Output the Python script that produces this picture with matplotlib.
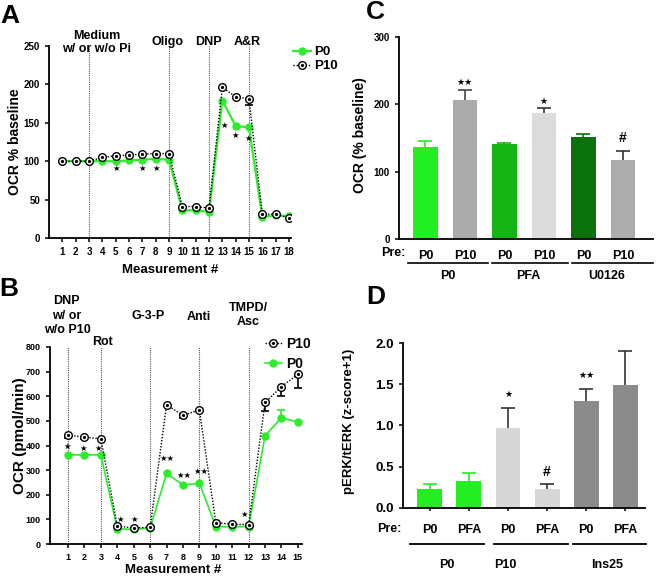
import matplotlib
matplotlib.use('Agg')
import matplotlib.pyplot as plt
from matplotlib.legend_handler import HandlerTuple

plt.rcParams['font.family'] = ['Liberation Sans', 'DejaVu Sans']
plt.rcParams['font.weight'] = 'bold'
plt.rcParams['axes.labelweight'] = 'bold'

# ---------------- data ----------------
GREEN = '#2cec2c'

# Panel A
a_meas = list(range(1, 19))
a_p0 = [100, 100, 100, 100, 100, 101, 102, 103, 102, 36, 36, 34, 179, 146, 144, 27, 30, 28]
a_p10 = [100, 100, 100, 105, 107, 108, 109, 110, 110, 41, 41, 39, 196, 184, 181, 31, 31, 26]
a_p10_err_lo = [0, 0, 0, 0, 0, 0, 0, 0, 0, 0, 0, 0, 0, 0, 8, 0, 0, 0]
a_injections = [3, 9, 12, 15]
a_inj_labels = ['Medium\nw/ or w/o Pi', 'Oligo', 'DNP', 'A&R']
a_inj_label_x = [3.6, 8.9, 11.95, 14.9]
a_star_x = [5.04, 7.02, 8.02, 13.16, 13.96, 14.91]
a_star_y = [91, 91, 91, 146, 134, 130]
a_star_txt = ['★', '★', '★', '★', '★', '★']

# Panel B
b_meas = list(range(1, 16))
b_p10 = [442, 434, 427, 73, 65, 68, 565, 523, 544, 87, 80, 79, 575, 639, 689]
b_p0 = [362, 362, 362, 61, 60, 64, 287, 239, 247, 71, 70, 71, 440, 513, 495]
b_p10_err_lo = [12, 8, 0, 0, 0, 0, 0, 13, 0, 0, 0, 0, 33, 38, 55]
b_p0_err_hi = [0, 0, 0, 0, 0, 0, 0, 0, 0, 0, 0, 0, 0, 32, 0]
b_injections = [1, 3, 6, 9, 12]
b_inj_labels = ['DNP\nw/ or\nw/o P10', 'Rot', 'G-3-P', 'Anti', 'TMPD/\nAsc']
b_inj_label_x = [0.93, 3.1, 5.87, 8.97, 12.0]
b_inj_label_y = [927, 819, 924, 923, 931]
b_star_x = [0.92, 1.93, 2.84, 4.17, 5.04, 7.05, 8.06, 9.08, 11.7]
b_star_y = [395, 386, 386, 101, 100, 348, 278, 294, 118]
b_star_txt = ['★', '★', '★', '★', '★', '★★', '★★', '★★', '★']

# Panel C
c_pre = ['P0', 'P10', 'P0', 'P10', 'P0', 'P10']
c_groups = ['P0', 'PFA', 'U0126']
c_vals = [137, 206, 141, 187, 151, 117]
c_err = [9, 15, 2, 7, 5, 14]
c_colors = ['#22ee22', '#ababab', '#14b414', '#dcdcdc', '#0b720b', '#adadad']
c_err_colors = ['#22ee22', '#444444', '#14b414', '#333333', '#0b720b', '#333333']
c_annot = ['', '★★', '', '★', '', '#']
c_annot_y = [0, 233, 0, 205, 0, 150]

# Panel D
d_pre = ['P0', 'PFA', 'P0', 'PFA', 'P0', 'PFA']
d_groups = ['P0', 'P10', 'Ins25']
d_vals = [0.23, 0.33, 0.97, 0.23, 1.29, 1.49]
d_err = [0.055, 0.09, 0.24, 0.055, 0.15, 0.41]
d_colors = ['#22ee22', '#22ee22', '#d7d7d7', '#d7d7d7', '#8b8b8b', '#8b8b8b']
d_err_colors = ['#22ee22', '#22ee22', '#333333', '#333333', '#333333', '#333333']
d_annot = ['', '', '★', '#', '★★', '']
d_annot_y = [0, 0, 1.37, 0.43, 1.61, 0]

# ---------------- figure ----------------
W, H = 656, 577
fig = plt.figure(figsize=(6.56, 5.77), dpi=100)


def ax_px(l, r, t, b):
    return fig.add_axes([l / W, 1 - b / H, (r - l) / W, (b - t) / H])


def style(ax, size):
    for s in ['top', 'right']:
        ax.spines[s].set_visible(False)
    for s in ['left', 'bottom']:
        ax.spines[s].set_linewidth(1.3)
    ax.tick_params(direction='out', length=3, width=1.1, labelsize=size)
    for lab in ax.get_xticklabels() + ax.get_yticklabels():
        lab.set_fontweight('bold')


def one_sided(ax, xs, ys, errs, color, up, z, capsize=3):
    """error bars drawn only on one side, with a cap only at the far end"""
    for xv, yv, e in zip(xs, ys, errs):
        if e <= 0:
            continue
        yerr = [[0], [e]] if up else [[e], [0]]
        _, caps, _ = ax.errorbar(xv, yv, yerr=yerr, fmt='none', ecolor=color, elinewidth=1.2,
                                 capsize=capsize, capthick=1.2, zorder=z)
        # caps[0] is lower cap, caps[1] upper cap
        if up:
            caps[0].set_visible(False)
        else:
            caps[1].set_visible(False)


STAR_FONT = ['DejaVu Sans']

# ---------- Panel A ----------
axA = ax_px(49, 291, 46, 238)
axA.set_xlim(0, 18.15)
axA.set_ylim(0, 250)
for xv in a_injections:
    axA.axvline(xv, color='#555555', lw=0.8, ls=(0, (1, 1)), zorder=1)
l0, = axA.plot(a_meas, a_p0, color=GREEN, lw=1.6, marker='o', ms=5, mfc=GREEN, mec=GREEN, zorder=3)
one_sided(axA, a_meas, a_p10, a_p10_err_lo, 'k', False, 4)
l10, = axA.plot(a_meas, a_p10, color='k', lw=1.0, ls=(0, (1, 1.2)), marker='o', ms=5.5, mfc='white', mec='k', mew=1.0, zorder=5)
d10, = axA.plot(a_meas, a_p10, ls='none', marker='o', ms=1.3, color='k', zorder=6)
axA.set_xticks(a_meas)
axA.set_yticks([0, 50, 100, 150, 200, 250])
style(axA, 7)
axA.set_xlabel('Measurement #', fontsize=9.5, fontweight='bold')
axA.set_ylabel('OCR % baseline', fontsize=10, fontweight='bold')
axA.xaxis.set_label_coords(0.5, -0.135)
axA.yaxis.set_label_coords(-0.112, 0.503)
for txt, xv in zip(a_inj_labels, a_inj_label_x):
    axA.text(xv, 255, txt, ha='center', va='center', fontsize=9, fontweight='bold', clip_on=False, linespacing=1.1)
for xv, yv, t in zip(a_star_x, a_star_y, a_star_txt):
    axA.text(xv, yv, t, ha='center', va='center', fontsize=6, family=STAR_FONT)
axA.legend([l0, (l10, d10)], ['P0', 'P10'], handler_map={tuple: HandlerTuple(ndivide=1)},
           loc='upper left', bbox_to_anchor=(1.01, 1.0), frameon=False, borderpad=0, borderaxespad=0,
           handlelength=1.3, handletextpad=0.3, labelspacing=0.15, prop={'size': 9.5, 'weight': 'bold'})

# ---------- Panel B ----------
axB = ax_px(50, 302, 347, 544)
axB.set_xlim(-0.1, 15.25)
axB.set_ylim(0, 800)
for xv in b_injections:
    axB.axvline(xv, color='#555555', lw=0.8, ls=(0, (1, 1)), zorder=1)
one_sided(axB, b_meas, b_p0, b_p0_err_hi, GREEN, True, 2)
m0, = axB.plot(b_meas, b_p0, color=GREEN, lw=1.2, marker='o', ms=5, mfc=GREEN, mec=GREEN, zorder=3)
one_sided(axB, b_meas, b_p10, b_p10_err_lo, 'k', False, 4)
m10, = axB.plot(b_meas, b_p10, color='k', lw=1.0, ls=(0, (1, 1.2)), marker='o', ms=5.5, mfc='white', mec='k', mew=1.0, zorder=5)
e10, = axB.plot(b_meas, b_p10, ls='none', marker='o', ms=1.3, color='k', zorder=6)
axB.set_xticks(b_meas)
axB.set_yticks(range(0, 801, 100))
style(axB, 6.5)
axB.set_xlabel('Measurement #', fontsize=9.5, fontweight='bold')
axB.set_ylabel('OCR (pmol/min)', fontsize=11, fontweight='bold')
axB.xaxis.set_label_coords(0.49, -0.1)
axB.yaxis.set_label_coords(-0.091, 0.548)
for txt, xv, yv in zip(b_inj_labels, b_inj_label_x, b_inj_label_y):
    axB.text(xv, yv, txt, ha='center', va='center', fontsize=9, fontweight='bold', clip_on=False, linespacing=1.25)
for xv, yv, t in zip(b_star_x, b_star_y, b_star_txt):
    axB.text(xv, yv, t, ha='center', va='center', fontsize=6, family=STAR_FONT)
axB.legend([(m10, e10), m0], ['P10', 'P0'], handler_map={tuple: HandlerTuple(ndivide=1)},
           loc='upper left', bbox_to_anchor=(0.853, 1.05), frameon=False, borderpad=0, borderaxespad=0,
           handlelength=1.2, handletextpad=0.35, labelspacing=0.42, prop={'size': 10, 'weight': 'bold'})

# ---------- Panel C ----------
axC = ax_px(399, 653, 37, 239)
xc = list(range(len(c_vals)))
axC.set_xlim(-0.67, 5.76)
axC.set_ylim(0, 300)
axC.bar(xc, c_vals, width=0.63, color=c_colors, edgecolor='none', zorder=2)
for xi, v, e, ec in zip(xc, c_vals, c_err, c_err_colors):
    one_sided(axC, [xi], [v], [e], ec, True, 3, capsize=4.7)
for xi, t, yv in zip(xc, c_annot, c_annot_y):
    if t:
        fam = STAR_FONT if '★' in t else None
        axC.text(xi, yv, t, ha='center', va='center', fontsize=6.5 if '★' in t else 10, fontweight='bold', family=fam)
axC.set_yticks([0, 100, 200, 300])
axC.set_xticks(xc)
axC.set_xticklabels(c_pre)
style(axC, 7)
axC.tick_params(axis='x', length=0, pad=8, labelsize=9)
for lab in axC.get_xticklabels():
    lab.set_fontweight('bold')
axC.set_ylabel('OCR (% baseline)', fontsize=10, fontweight='bold')
axC.yaxis.set_label_coords(-0.126, 0.515)
trC = axC.get_xaxis_transform()
axC.text(-0.82, -0.07, 'Pre:', transform=trC, ha='center', va='center', fontsize=9, fontweight='bold')
for (x0, x1), xl, g in zip([(-0.44, 1.58), (1.68, 3.61), (3.71, 5.76)], [0.57, 2.59, 4.59], c_groups):
    axC.plot([x0, x1], [-0.119, -0.119], transform=trC, color='k', lw=1.2, clip_on=False)
    axC.text(xl, -0.183, g, transform=trC, ha='center', va='center', fontsize=9, fontweight='bold')

# ---------- Panel D ----------
axD = ax_px(403, 645, 343, 507.7)
xd = list(range(len(d_vals)))
axD.set_xlim(-0.69, 5.51)
axD.set_ylim(0, 2.0)
axD.bar(xd, d_vals, width=0.64, color=d_colors, edgecolor='none', zorder=2)
for xi, v, e, ec in zip(xd, d_vals, d_err, d_err_colors):
    one_sided(axD, [xi], [v], [e], ec, True, 3, capsize=4.7)
for xi, t, yv in zip(xd, d_annot, d_annot_y):
    if t:
        fam = STAR_FONT if '★' in t else None
        axD.text(xi, yv, t, ha='center', va='center', fontsize=6.5 if '★' in t else 10, fontweight='bold', family=fam)
axD.set_yticks([0.0, 0.5, 1.0, 1.5, 2.0])
axD.set_yticklabels(['0.0', '0.5', '1.0', '1.5', '2.0'])
axD.set_xticks(xd)
axD.set_xticklabels(d_pre)
style(axD, 9.5)
axD.tick_params(axis='x', length=2.5, pad=9, labelsize=9)
for lab in axD.get_xticklabels():
    lab.set_fontweight('bold')
axD.set_ylabel('pERK/tERK (z-score+1)', fontsize=9.5, fontweight='bold')
axD.yaxis.set_label_coords(-0.2, 0.526)
trD = axD.get_xaxis_transform()
axD.text(-1.05, -0.13, 'Pre:', transform=trD, ha='center', va='center', fontsize=9, fontweight='bold')
for (x0, x1), xl, g in zip([(-0.51, 1.38), (1.64, 3.54), (3.67, 5.54)], [0.44, 1.92, 4.54], d_groups):
    axD.plot([x0, x1], [-0.22, -0.22], transform=trD, color='k', lw=1.3, clip_on=False)
    axD.text(xl, -0.35, g, transform=trD, ha='center', va='center', fontsize=9, fontweight='bold')

# panel letters
for lt, px, py in [('A', 10, 16), ('B', 9, 289), ('C', 375, 12), ('D', 376, 297)]:
    fig.text(px / W, 1 - py / H, lt, ha='center', va='center', fontsize=19, fontweight='bold')

fig.savefig('out.png', dpi=100)
